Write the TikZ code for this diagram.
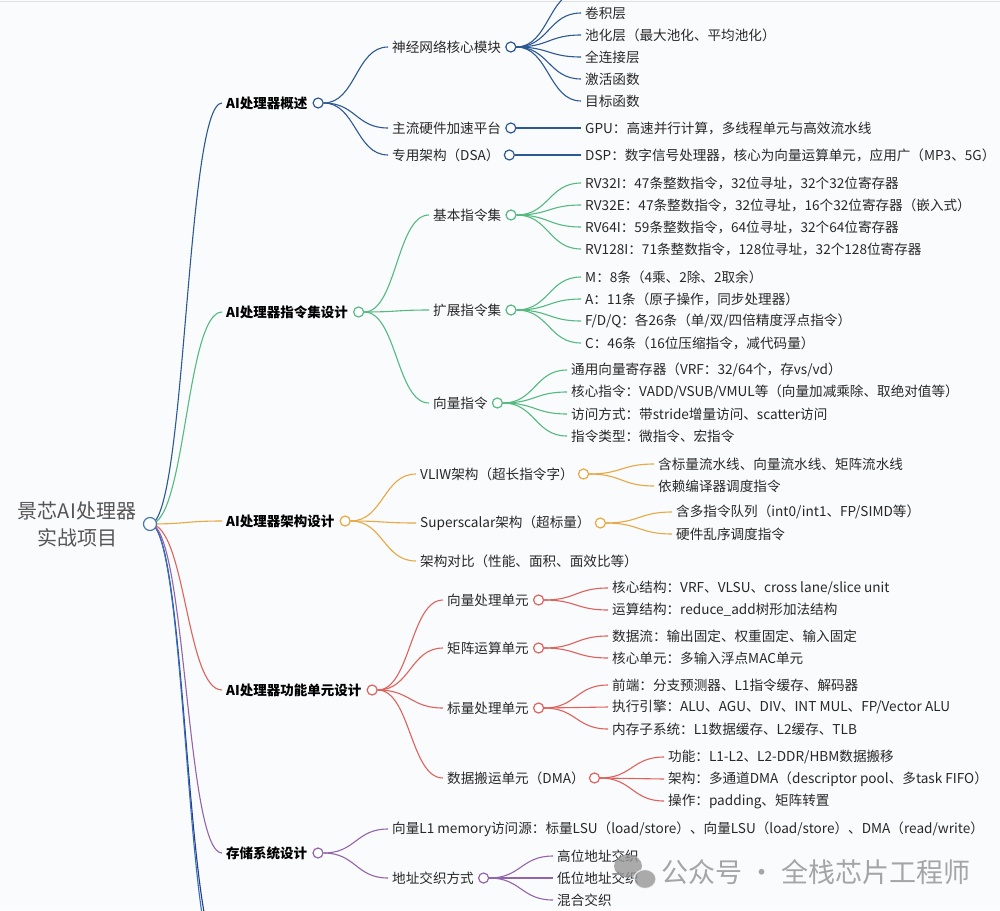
\documentclass[tikz,border=0pt]{standalone}
\usepackage{fontspec}
\setmainfont{Noto Sans CJK SC}
\usetikzlibrary{
  calc,
  positioning,
}
\definecolor{bg}{RGB}{250, 251, 253}
\definecolor{ink}{RGB}{40, 40, 40}
\definecolor{rootgray}{RGB}{85, 85, 85}
\definecolor{rootblue}{RGB}{70, 120, 175}
\definecolor{brblue}{RGB}{44, 88, 148}
\definecolor{brgreen}{RGB}{84, 186, 128}
\definecolor{brorange}{RGB}{232, 168, 66}
\definecolor{brred}{RGB}{222, 98, 92}
\definecolor{brpurple}{RGB}{146, 100, 170}
\definecolor{brnavy}{RGB}{40, 58, 138}
\definecolor{brsky}{RGB}{52, 112, 192}
\definecolor{wmgray}{RGB}{150, 150, 150}
\tikzstyle{lv1} = [
  anchor=west,
  inner xsep=4pt,
  inner ysep=1pt,
  font=\fontsize{13.5}{16}\selectfont\bfseries,
  text=black,
]
\tikzstyle{leaf} = [
  anchor=west,
  inner xsep=4pt,
  inner ysep=1pt,
  font=\fontsize{13.6}{16}\selectfont,
  text=ink,
]
\tikzstyle{dot} = [
  circle,
  fill=white,
  line width=1.2pt,
  inner sep=0pt,
  minimum size=10pt,
]
\tikzstyle{link} = [
  line width=1.1pt,
]
\newcommand\link[3]{
  \coordinate (mid) at ($(#2)!0.5!(#3)$);
  \draw [#1] (#2) .. controls (mid |- #2) and (mid |- #3) .. (#3);
}
\newcommand\leaves[5]{
  \foreach \t [count=\i] in {#5} {
    \node [leaf] (#1\i) at (#2, {#3 + 22*(\i-1)}) {\t};
    \link{link, #4}{#1o.east}{#1\i.west}
  }
}

\begin{document}
\begin{tikzpicture}[x=1pt, y=-1pt]

        \useasboundingbox (0,0) rectangle (1000,910);

        \fill [bg] (0,0) rectangle (1000,910);

        \clip (0,0) rectangle (1000,910);

        \draw [gray!25, line width=0.8pt] (0,1.5) -- (1000,1.5);

        \node [align=center, text=rootgray, font=\fontsize{20}{27}\selectfont]
              (title) at (77,524) {景芯AI处理器\\实战项目};

        % first level
        \node [lv1] (ov) at (222,103) {AI处理器概述};
        \node [lv1] (isa) at (222,312) {AI处理器指令集设计};
        \node [lv1] (arch) at (222,521) {AI处理器架构设计};
        \node [lv1] (fu) at (222,690) {AI处理器功能单元设计};
        \node [lv1] (mem) at (222,853) {存储系统设计};

        \coordinate (more1) at (222,958);
        \coordinate (more2) at (222,975);

        % second level
        \node [leaf] (nn) at (388,47) {神经网络核心模块};
        \node [leaf] (hw) at (388,128) {主流硬件加速平台};
        \node [leaf] (dsa) at (388,155) {专用架构（DSA）};

        \node [leaf] (base) at (429,215) {基本指令集};
        \node [leaf] (ext) at (429,310) {扩展指令集};
        \node [leaf] (vec) at (429,403) {向量指令};

        \node [leaf] (vliw) at (416,474) {VLIW架构（超长指令字）};
        \node [leaf] (ss) at (416,523) {Superscalar架构（超标量）};
        \node [leaf] (cmp) at (416,561) {架构对比（性能、面积、面效比等）};

        \node [leaf] (vpu) at (443,600) {向量处理单元};
        \node [leaf] (mpu) at (443,648) {矩阵运算单元};
        \node [leaf] (spu) at (443,708) {标量处理单元};
        \node [leaf] (dma) at (443,778) {数据搬运单元（DMA）};

        \node [leaf] (lone) at (388,829)
              {向量L1 memory访问源：标量LSU（load/store）、向量LSU（load/store）、DMA（read/write）};
        \node [leaf] (il) at (388,878) {地址交织方式};

        % links from the root
        \link{link, brnavy}{150,524}{more1}
        \link{link, brsky}{150,524}{more2}
        \link{link, brblue}{150,524}{ov.west}
        \link{link, brgreen}{150,524}{isa.west}
        \link{link, brorange}{150,524}{arch.west}
        \link{link, brred}{150,524}{fu.west}
        \link{link, brpurple}{150,524}{mem.west}

        \node [dot, draw=rootblue, minimum size=13pt] (root) at (150,524) {};

        % circles
        \node [dot, draw=brblue, right=1pt of ov] (ovo) {};
        \node [dot, draw=brgreen, right=1pt of isa] (isao) {};
        \node [dot, draw=brorange, right=1pt of arch] (archo) {};
        \node [dot, draw=brred, right=1pt of fu] (fuo) {};
        \node [dot, draw=brpurple, right=1pt of mem] (memo) {};

        \foreach \c in {nn, hw, dsa} {
          \node [dot, draw=brblue, right=0pt of \c] (\c o) {};
          \link{link, brblue}{ovo.east}{\c.west}
        }
        \foreach \c in {base, ext, vec} {
          \node [dot, draw=brgreen, right=0pt of \c] (\c o) {};
          \link{link, brgreen}{isao.east}{\c.west}
        }
        \foreach \c in {vliw, ss} {
          \node [dot, draw=brorange, right=0pt of \c] (\c o) {};
          \link{link, brorange}{archo.east}{\c.west}
        }
        \link{link, brorange}{archo.east}{cmp.west}
        \foreach \c in {vpu, mpu, spu, dma} {
          \node [dot, draw=brred, right=0pt of \c] (\c o) {};
          \link{link, brred}{fuo.east}{\c.west}
        }
        \node [dot, draw=brpurple, right=0pt of il] (ilo) {};
        \link{link, brpurple}{memo.east}{lone.west}
        \link{link, brpurple}{memo.east}{il.west}

        % third level
        \coordinate (nn0) at (581,-9);
        \link{link, brblue}{nno.east}{nn0}
        \leaves{nn}{581}{13}{brblue}{卷积层, 池化层（最大池化、平均池化）, 全连接层, 激活函数, 目标函数}
        \leaves{hw}{581}{128}{brblue}{GPU：高速并行计算，多线程单元与高效流水线}
        \leaves{dsa}{581}{155}{brblue}{DSP：数字信号处理器，核心为向量运算单元，应用广（MP3、5G）}

        \leaves{base}{581}{183}{brgreen}{RV32I：47条整数指令，32位寻址，32个32位寄存器,
          RV32E：47条整数指令，32位寻址，16个32位寄存器（嵌入式）,
          RV64I：59条整数指令，64位寻址，32个64位寄存器,
          RV128I：71条整数指令，128位寻址，32个128位寄存器}
        \leaves{ext}{581}{277}{brgreen}{M：8条（4乘、2除、2取余）,
          A：11条（原子操作，同步处理器）,
          F/D/Q：各26条（单/双/四倍精度浮点指令）,
          C：46条（16位压缩指令，减代码量）}
        \leaves{vec}{567}{370}{brgreen}{通用向量寄存器（VRF：32/64个，存vs/vd）,
          核心指令：VADD/VSUB/VMUL等（向量加减乘除、取绝对值等）,
          访问方式：带stride增量访问、scatter访问,
          指令类型：微指令、宏指令}

        \leaves{vliw}{654}{464}{brorange}{含标量流水线、向量流水线、矩阵流水线, 依赖编译器调度指令}
        \leaves{ss}{672}{512}{brorange}{含多指令队列（int0/int1、FP/SIMD等）, 硬件乱序调度指令}

        \leaves{vpu}{608}{588}{brred}{核心结构：VRF、VLSU、cross lane/slice unit,
          运算结构：reduce\_add树形加法结构}
        \leaves{mpu}{608}{636}{brred}{数据流：输出固定、权重固定、输入固定,
          核心单元：多输入浮点MAC单元}
        \leaves{spu}{608}{685}{brred}{前端：分支预测器、L1指令缓存、解码器,
          执行引擎：ALU、AGU、DIV、INT MUL、FP/Vector ALU,
          内存子系统：L1数据缓存、L2缓存、TLB}
        \leaves{dma}{664}{757}{brred}{功能：L1-L2、L2-DDR/HBM数据搬移,
          架构：多通道DMA（descriptor pool、多task FIFO）,
          操作：padding、矩阵转置}

        \leaves{il}{553}{856}{brpurple}{高位地址交织, 低位地址交织, 混合交织}

        % watermark
        \fill [wmgray, opacity=0.8] (628,866) ellipse [x radius=14pt, y radius=11.5pt];
        \fill [wmgray, opacity=0.8, draw=bg, line width=1.2pt]
              (645,879) ellipse [x radius=11pt, y radius=9.5pt];
        \node [anchor=west, text=wmgray, opacity=0.85, font=\fontsize{27}{30}\selectfont]
              (wm) at (658,872) {公众号 · 全栈芯片工程师};
      \end{tikzpicture}
\end{document}
